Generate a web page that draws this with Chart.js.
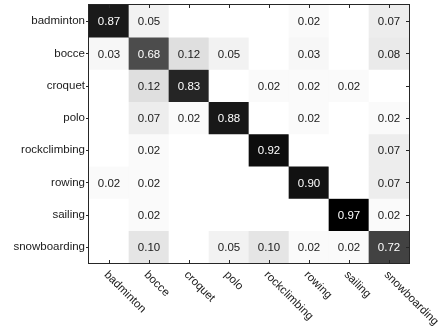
<!DOCTYPE html>
<html>
<head>
<meta charset="utf-8">
<script src="https://cdn.jsdelivr.net/npm/chart.js@4"></script>
<style>
  html, body { margin: 0; padding: 0; background: #fff; }
  #wrap { width: 440px; height: 326px; }
</style>
</head>
<body>
<div id="wrap"><canvas id="cm"></canvas></div>
<script>
// LABELS

const trueLabels = ["badminton", "bocce", "croquet", "polo", "rockclimbing", "rowing", "sailing", "snowboarding"];
const predLabels = ["badminton", "bocce", "croquet", "polo", "rockclimbing", "rowing", "sailing", "snowboarding"];

// CONFUSION ROWS (true class -> predicted class)

const badmintonRow    = [0.87, 0.05, 0,    0,    0,    0.02, 0,    0.07];
const bocceRow        = [0.03, 0.68, 0.12, 0.05, 0,    0.03, 0,    0.08];
const croquetRow      = [0,    0.12, 0.83, 0,    0.02, 0.02, 0.02, 0   ];
const poloRow         = [0,    0.07, 0.02, 0.88, 0,    0.02, 0,    0.02];
const rockclimbingRow = [0,    0.02, 0,    0,    0.92, 0,    0,    0.07];
const rowingRow       = [0.02, 0.02, 0,    0,    0,    0.90, 0,    0.07];
const sailingRow      = [0,    0.02, 0,    0,    0,    0,    0.97, 0.02];
const snowboardingRow = [0,    0.10, 0,    0.05, 0.10, 0.02, 0.02, 0.72];

const rows = [badmintonRow, bocceRow, croquetRow, poloRow, rockclimbingRow, rowingRow, sailingRow, snowboardingRow];

const FONT = "'Liberation Sans', Arial, sans-serif";

function grey(v) {
  const g = Math.round(255 * (1 - v / 0.97));
  return "rgb(" + g + "," + g + "," + g + ")";
}

// one floating-bar dataset per true class
const datasets = rows.map((row, i) => ({
  label: trueLabels[i],
  data: row.map((v, j) => ({ x: predLabels[j], y: [i, i + 1], v: v })),
  backgroundColor: row.map(v => grey(v)),
  borderWidth: 0,
  borderSkipped: false,
  grouped: false,
  barPercentage: 1,
  categoryPercentage: 1
}));

// CELL TEXT, FRAME, TICKS, ROTATED X LABELS

const matrixExtras = {
  id: "matrixExtras",
  afterDatasetsDraw(chart) {
    const ctx = chart.ctx;
    const a = chart.chartArea;
    const xs = chart.scales.x;
    const ys = chart.scales.y;

    ctx.save();
    ctx.font = "11.5px " + FONT;
    ctx.textAlign = "center";
    ctx.textBaseline = "middle";
    rows.forEach((row, i) => {
      row.forEach((v, j) => {
        if (v <= 0) return;
        ctx.fillStyle = v > 0.5 ? "#ffffff" : "#1a1a1a";
        ctx.fillText(v.toFixed(2), xs.getPixelForValue(j), ys.getPixelForValue(i + 0.5) + 1);
      });
    });

    // frame
    ctx.strokeStyle = "#262626";
    ctx.lineWidth = 1;
    ctx.strokeRect(Math.round(a.left) - 0.5, Math.round(a.top) - 0.5,
      Math.round(a.right - a.left) + 1, Math.round(a.bottom - a.top) + 1);

    // ticks
    ctx.beginPath();
    predLabels.forEach((c, j) => {
      const x = Math.round(xs.getPixelForValue(j)) + 0.5;
      ctx.moveTo(x, a.bottom); ctx.lineTo(x, a.bottom - 3);
      ctx.moveTo(x, a.top); ctx.lineTo(x, a.top + 3);
    });
    trueLabels.forEach((r, i) => {
      const y = Math.round(ys.getPixelForValue(i + 0.5)) + 0.5;
      ctx.moveTo(a.left - 3, y); ctx.lineTo(a.left, y);
      ctx.moveTo(a.right, y); ctx.lineTo(a.right - 3, y);
    });
    ctx.stroke();

    // x labels, turned 45 degrees clockwise
    ctx.fillStyle = "#1a1a1a";
    ctx.textAlign = "left";
    ctx.textBaseline = "middle";
    predLabels.forEach((c, j) => {
      ctx.save();
      ctx.translate(xs.getPixelForValue(j) - 3, a.bottom + 10);
      ctx.rotate(Math.PI / 4);
      ctx.fillText(c, 0, 0);
      ctx.restore();
    });
    ctx.restore();
  }
};

new Chart(
  document.getElementById("cm"),
  {
    type: "bar",
    data: {
      labels: predLabels,
      datasets: datasets
    },
    options: {
      responsive: true,
      maintainAspectRatio: false,
      animation: false,
      layout: { padding: { top: 5, right: 31, left: 0, bottom: 0 } },
      plugins: {
        legend: { display: false },
        tooltip: { enabled: false }
      },
      scales: {
        x: {
          type: "category",
          offset: true,
          grid: { display: false, drawTicks: false },
          border: { display: false },
          ticks: { display: false },
          afterFit: s => { s.height = 63; }
        },
        y: {
          type: "linear",
          min: 0,
          max: 8,
          reverse: true,
          grid: { display: false, drawTicks: false },
          border: { display: false },
          afterBuildTicks: s => {
            s.ticks = trueLabels.map((r, i) => ({ value: i + 0.5 }));
          },
          ticks: {
            autoSkip: false,
            padding: 4,
            color: "#1a1a1a",
            font: { family: FONT, size: 11.5 },
            callback: v => trueLabels[Math.floor(v)]
          },
          afterFit: s => {
            s.width = 89;
            s.paddingTop = 0;
            s.paddingBottom = 0;
          }
        }
      }
    },
    plugins: [matrixExtras]
  }
);
</script>
</body>
</html>
